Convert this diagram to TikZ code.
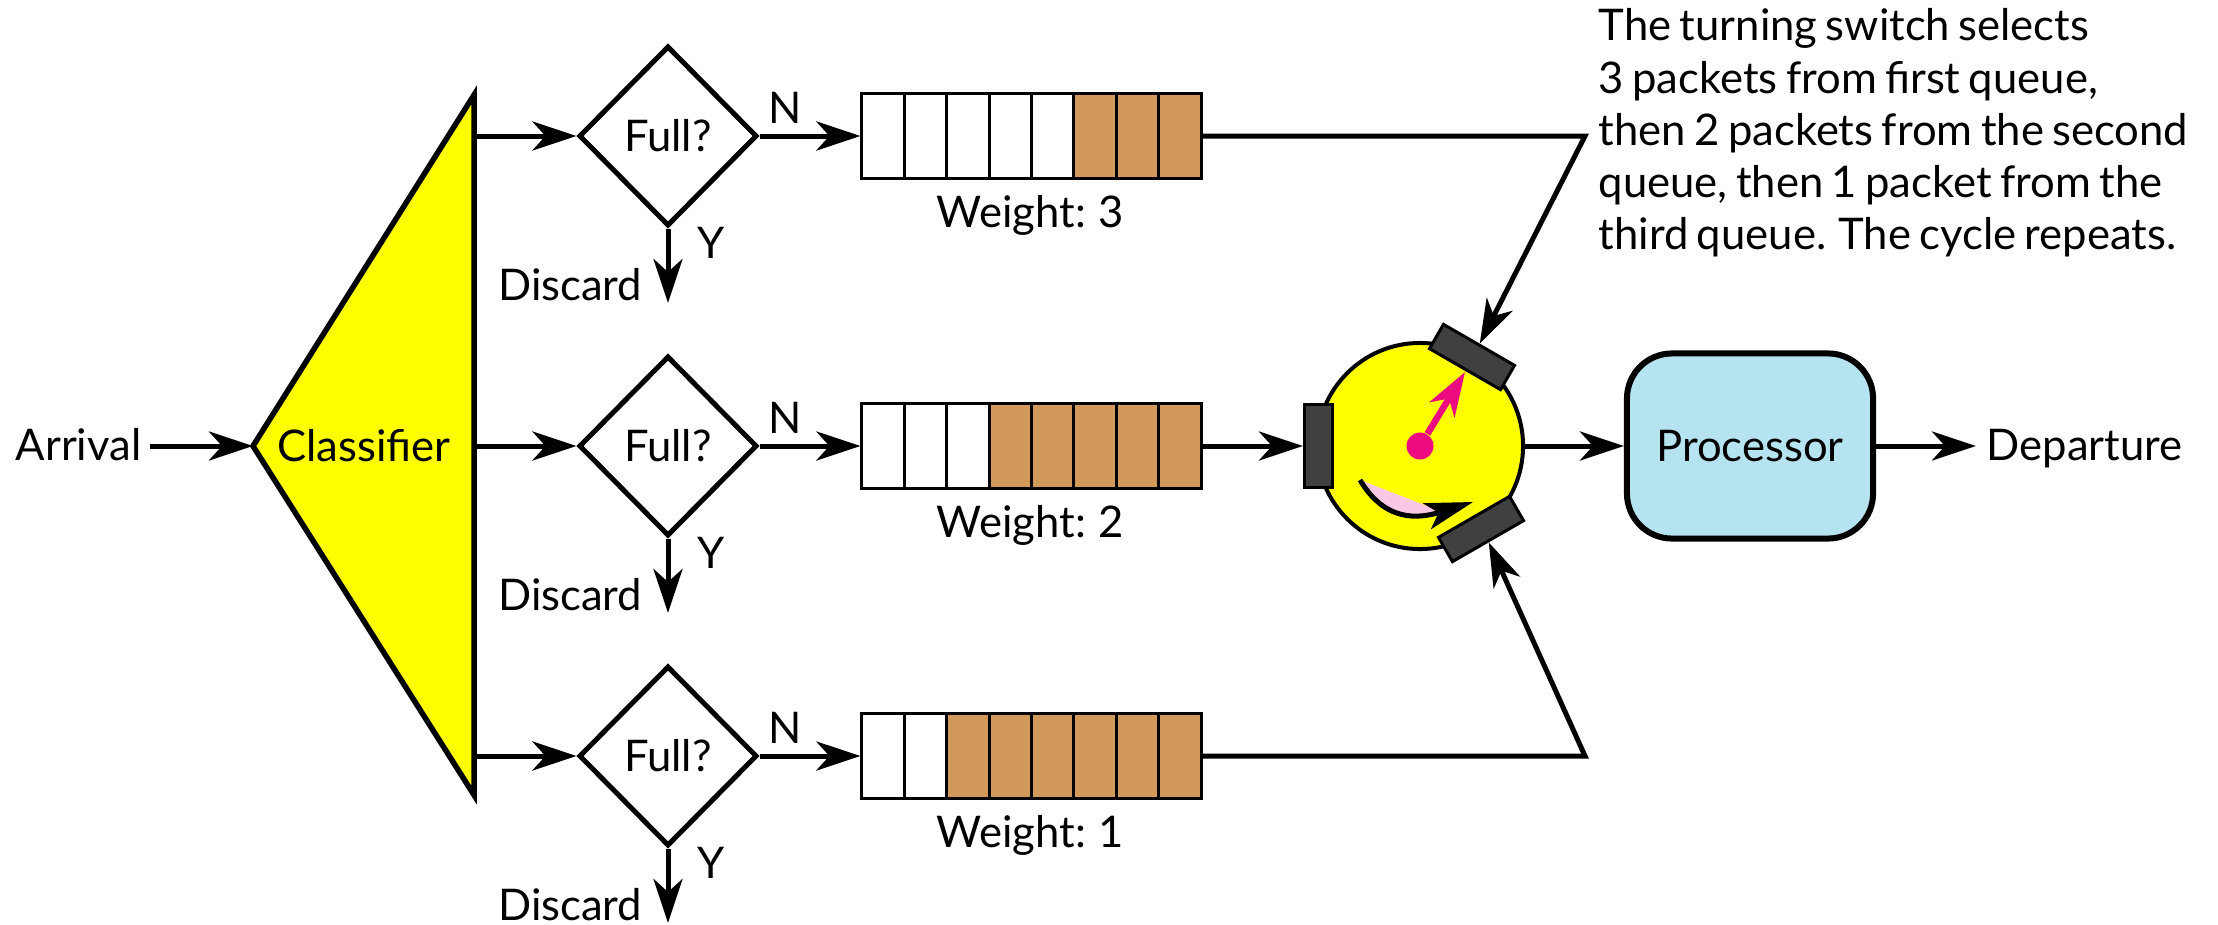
\documentclass[tikz,border=0pt]{standalone}
\usepackage{fontspec}
\setmainfont{Lato}[WordSpace=0.75]
\usetikzlibrary{arrows.meta,shapes.geometric}
\definecolor{classyellow}{RGB}{255,255,0}
\definecolor{packetbrown}{HTML}{D19A5B}
\definecolor{procblue}{HTML}{B5E3EF}
\definecolor{wheelpink}{HTML}{EC0B80}
\definecolor{sweeppink}{HTML}{F8C8E4}
\definecolor{slotgrey}{HTML}{404040}
\tikzset{
  flow/.style={-{Stealth[length=0.44cm,width=0.29cm,inset=0.13cm]}, line width=0.05cm},
  fullbox/.style={diamond, draw, line width=0.05cm, minimum width=1.78cm, minimum height=1.8cm, inner sep=0pt},
  queuebox/.style={rectangle, draw, line width=0.03cm, minimum width=3.39cm, minimum height=0.85cm, inner sep=0pt},
  slotbox/.style={rectangle, draw, fill=slotgrey, line width=0.03cm, minimum width=0.82cm, minimum height=0.28cm, inner sep=0pt},
}
\begin{document}
\begin{tikzpicture}[x=0.01cm, y=-0.01cm, line join=miter,
  every node/.append style={font=\fontsize{12.4}{14.85}\selectfont}]
  \useasboundingbox (0,0) rectangle (2218,924);

  % Classifier
  \coordinate (clstip) at (253,446);
  \coordinate (clstop) at (474,95);
  \coordinate (clsbot) at (474,795);
  \path [fill=classyellow, draw=black, line width=0.055cm] (clstip) -- (clstop) -- (clsbot) -- cycle;
  \node (classifier) at (364,446) {Classifier};

  % Arrival
  \node [anchor=base west, inner sep=0pt] (arrival) at (15,460) {Arrival};
  \coordinate (arrivalout) at (150,446);
  \draw [flow] (arrivalout) -- (clstip);

  % Rows
  \foreach [evaluate={\z=int(\e+1);}] \r/\y/\e/\w in {1/136/5/3, 2/446/3/2, 3/756/2/1}{%
    \coordinate (cls\r) at (474,\y);
    \node [fullbox] (full\r) at (668,\y) {Full?};
    \node [queuebox] (queue\r) at (1031.5,\y) {};
    \foreach [evaluate={\x=862+42.375*(\j-1);}] \j in {\z,...,8}{%
      \path [fill=packetbrown] (\x,\y-42.5) rectangle (\x+42.375,\y+42.5);
    }
    \foreach [evaluate={\x=862+42.375*\j;}] \j in {1,...,7}{%
      \draw [line width=0.03cm] (\x,\y-42.5) -- (\x,\y+42.5);
    }
    \node [queuebox] at (queue\r) {};
    \draw [flow] (cls\r) -- (full\r.west);
    \draw [flow] (full\r.east) -- (queue\r.west);
    \coordinate (drop\r) at (668,\y+167);
    \draw [flow] (full\r.south) -- (drop\r);
    \node (no\r) at (785,\y-28) {N};
    \node (yes\r) at (711,\y+107) {Y};
    \node [anchor=east, inner sep=0pt] (discard\r) at (643,\y+149) {Discard};
    \node (weight\r) at (1030,\y+79) {Weight: \w};
  }

  % Turning switch
  \node [circle, draw, fill=classyellow, line width=0.04cm, minimum size=2.06cm, inner sep=0pt] (wheel) at (1420,446) {};
  \node [slotbox, rotate=90] (slotleft) at (1318.5,446) {};
  \node [slotbox, rotate=-30] (slottop) at (1472,357) {};
  \node [slotbox, rotate=30] (slotbot) at (1481,529) {};

  % Sweep arrow
  \path [fill=sweeppink] (1360,480) .. controls (1385,518) and (1415,520) .. (1440,511) -- cycle;
  \coordinate (sweepstart) at (1360,480);
  \coordinate (sweepend) at (1473,502);
  \draw [-{Stealth[length=0.48cm,width=0.27cm,inset=0.12cm]}, line width=0.05cm]
    (sweepstart) .. controls (1385,522) and (1418,519) .. (sweepend);

  % Pointer
  \node [circle, fill=wheelpink, minimum size=0.27cm, inner sep=0pt] (hub) at (1420,446) {};
  \coordinate (pointertip) at (1465,372);
  \draw [flow, wheelpink, line width=0.065cm] (hub) -- (pointertip);

  % Queues to switch
  \coordinate (join1) at (1585,136);
  \coordinate (join3) at (1585,756);
  \draw [flow] (queue1.east) -- (join1) -- (slottop.north);
  \draw [flow] (queue2.east) -- (slotleft.north);
  \draw [flow] (queue3.east) -- (join3) -- (slotbot.south);

  % Processor
  \node [rectangle, rounded corners=0.45cm, draw, fill=procblue, line width=0.06cm,
    minimum width=2.46cm, minimum height=1.85cm] (processor) at (1750,446) {Processor};
  \draw [flow] (wheel.east) -- (processor.west);
  \node [anchor=base west, inner sep=0pt] (departure) at (1986,460) {Departure};
  \draw [flow, shorten >=0.1cm] (processor.east) -- (departure.west |- processor.east);

  % Note
  \node [anchor=north west, align=left, inner sep=0pt] (note) at (1598,8)
    {The turning switch selects\\
     3 packets from first queue,\\
     then 2 packets from the second\\
     queue, then 1 packet from the\\
     third queue. The cycle repeats.};
\end{tikzpicture}
\end{document}
